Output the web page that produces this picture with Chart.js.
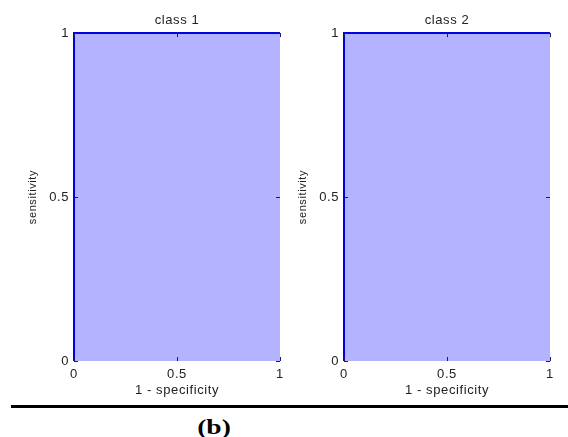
<!DOCTYPE html>
<html>
<head>
<meta charset="utf-8">
<script src="https://cdn.jsdelivr.net/npm/chart.js@4/dist/chart.umd.min.js"></script>
<style>
  html, body { margin: 0; padding: 0; background: #fff; }
  body { width: 568px; height: 437px; position: relative; overflow: hidden; }
  .cv { position: absolute; top: 0; }
  #rule { position: absolute; left: 11px; top: 405px; width: 557px; height: 3px; background: #000; }
  #cap { position: absolute; left: 174px; width: 80px; top: 415px; text-align: center;
         font: bold 22px "Liberation Serif", "DejaVu Serif", serif; color: #000; line-height: 24px;
         transform: scaleX(1.25); transform-origin: 50% 50%; }
</style>
</head>
<body>
<div class="cv" style="left:0px;width:284px;height:400px;"><canvas id="c1"></canvas></div>
<div class="cv" style="left:270px;width:284px;height:400px;"><canvas id="c2"></canvas></div>
<div id="rule"></div>
<div id="cap">(b)</div>
<script>
// ---- data ----
const panelTitles = ["class 1", "class 2"];
const fprClass1 = [0, 0, 1];
const tprClass1 = [0, 1, 1];
const fprClass2 = [0, 0, 1];
const tprClass2 = [0, 1, 1];
const tickValues = [0, 0.5, 1];
const xLabel = "1 - specificity";
const yLabel = "sensitivity";

const FONT = "'Liberation Sans', Arial, sans-serif";
const TXT = "#222";
const SPACING = '0.6px';

const spacingPlugin = {
  id: 'spacing',
  beforeUpdate(chart) { chart.ctx.letterSpacing = SPACING; },
  beforeDraw(chart) { chart.ctx.letterSpacing = SPACING; }
};

const boxPlugin = {
  id: 'boxTicks',
  beforeDatasetsDraw(chart) {
    const ctx = chart.ctx, a = chart.chartArea;
    ctx.save();
    ctx.strokeStyle = '#444';
    ctx.lineWidth = 1;
    ctx.strokeRect(Math.round(a.left) + 0.5, Math.round(a.top) + 0.5,
                   Math.round(a.right - a.left) - 1, Math.round(a.bottom - a.top) - 1);
    ctx.restore();
  },
  afterDatasetsDraw(chart) {
    const ctx = chart.ctx, a = chart.chartArea;
    const xs = chart.scales.x, ys = chart.scales.y;
    ctx.save();
    ctx.lineWidth = 1;
    ctx.beginPath();
    tickValues.forEach(v => {
      const px = Math.round(xs.getPixelForValue(v)) + 0.5;
      ctx.moveTo(px, a.bottom); ctx.lineTo(px, a.bottom - 4);
      ctx.moveTo(px, a.top); ctx.lineTo(px, a.top + 4);
      const py = Math.round(ys.getPixelForValue(v)) + 0.5;
      ctx.moveTo(a.left, py); ctx.lineTo(a.left + 4, py);
      ctx.moveTo(a.right, py); ctx.lineTo(a.right - 4, py);
    });
    ctx.strokeStyle = '#1a1a66';
    ctx.stroke();
    ctx.restore();
  }
};

const fmt = v => String(v);

function makeChart(id, title, fpr, tpr) {
  const pts = fpr.map((x, i) => ({ x: x, y: tpr[i] }));
  return new Chart(document.getElementById(id), {
    type: 'scatter',
    data: {
      datasets: [{
        data: pts,
        showLine: true,
        fill: 'origin',
        backgroundColor: 'rgb(179,179,255)',
        borderColor: '#0000e0',
        borderWidth: 2,
        pointRadius: 0,
        tension: 0,
        clip: 3
      }]
    },
    options: {
      responsive: true,
      maintainAspectRatio: false,
      animation: false,
      layout: { padding: { left: 0, right: 4, top: 0, bottom: 0 } },
      plugins: {
        legend: { display: false },
        tooltip: { enabled: false },
        title: {
          display: true, text: title, color: TXT, fullSize: false,
          font: { family: FONT, size: 13, weight: 'normal' },
          padding: { top: 12.5, bottom: 5 }
        }
      },
      scales: {
        x: {
          type: 'linear', min: 0, max: 1,
          afterBuildTicks: s => { s.ticks = tickValues.map(v => ({ value: v })); },
          afterFit: s => { s.height = 39; s.paddingLeft = 0; s.paddingRight = 0; },
          grid: { display: false, drawTicks: false },
          border: { display: false },
          ticks: { color: TXT, font: { family: FONT, size: 13 }, padding: 6, maxRotation: 0, callback: fmt },
          title: { display: true, text: xLabel, color: TXT, font: { family: FONT, size: 13 },
                   padding: { top: 0, bottom: 1.5 } }
        },
        y: {
          type: 'linear', min: 0, max: 1,
          afterBuildTicks: s => { s.ticks = tickValues.map(v => ({ value: v })); },
          afterFit: s => { s.width = 74; s.paddingTop = 0; s.paddingBottom = 0; },
          grid: { display: false, drawTicks: false },
          border: { display: false },
          ticks: { color: TXT, font: { family: FONT, size: 13 }, padding: 5, callback: fmt },
          title: { display: true, text: yLabel, color: TXT, font: { family: FONT, size: 11 },
                   padding: { top: 26, bottom: 0 } }
        }
      }
    },
    plugins: [spacingPlugin, boxPlugin]
  });
}

makeChart('c1', panelTitles[0], fprClass1, tprClass1);
makeChart('c2', panelTitles[1], fprClass2, tprClass2);
</script>
</body>
</html>
